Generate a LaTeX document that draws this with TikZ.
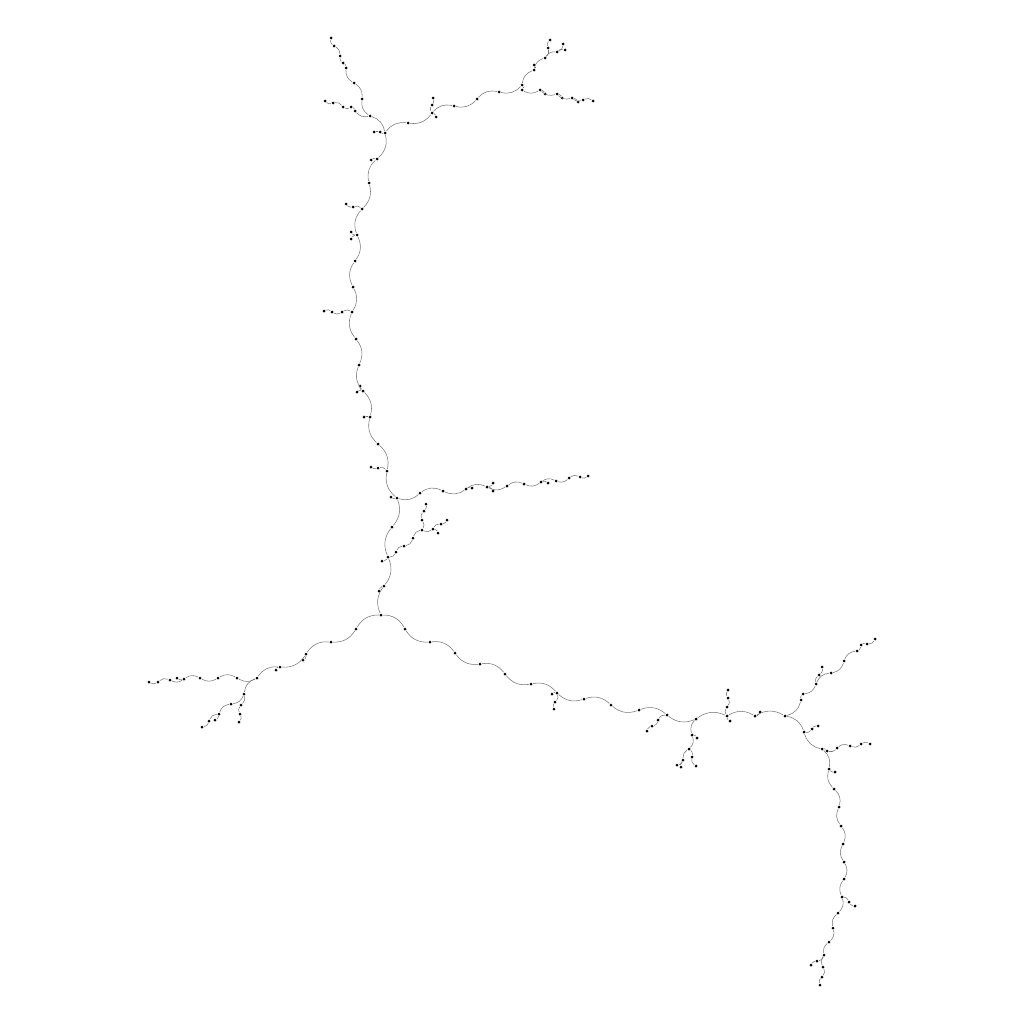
\documentclass[tikz,border=0pt]{standalone}
\usetikzlibrary{positioning}

\tikzset{
  vtx/.style={circle,fill=black,inner sep=0pt,minimum size=0.03cm},
  lnk/.style={draw=black!55,line width=0.15pt}
}

\begin{document}
\begin{tikzpicture}[x=0.01cm,y=-0.01cm]
  \useasboundingbox (0,0) rectangle (1024,1024);

  % vertices (pixel positions)
  \foreach \n/\x/\y in {
    1/385/133, 2/370/116, 3/362/99, 4/354/83, 5/346/68, 6/343/63, 7/340/56, 8/334/46, 9/331/38,
    10/355/111, 11/351/107, 12/343/107, 13/333/103, 14/325/101, 15/380/132, 16/374/132,
    17/408/123, 18/432/113, 19/454/106, 20/477/99, 21/499/92, 22/522/85, 23/432/105, 24/433/98,
    25/436/117, 26/534/70, 27/534/65, 28/545/58, 29/548/48, 30/550/40, 31/557/52, 32/563/44,
    33/565/50, 34/522/90, 35/540/90, 36/545/94, 37/557/94, 38/562/98, 39/572/98, 40/578/102,
    41/583/100, 42/593/101,
    43/377/159, 44/371/160, 45/369/183, 46/362/209, 47/353/207, 48/346/204, 49/357/235,
    50/351/232, 51/351/239, 52/355/261, 53/353/287, 54/352/312, 55/342/312, 56/332/312,
    57/324/311, 58/356/339, 59/359/365, 60/363/391, 61/360/386, 62/357/392, 63/370/417,
    64/364/417, 65/378/444, 66/387/471, 67/378/468, 68/371/467, 69/397/498, 70/391/497,
    71/420/493, 72/443/491, 73/466/489, 74/472/488, 75/487/487, 76/493/483, 77/493/491,
    78/507/486, 79/524/484, 80/541/482, 81/548/483, 82/556/481, 83/569/478, 84/580/477,
    85/588/476,
    86/392/527, 87/388/557, 88/382/561, 89/396/552, 90/404/546, 91/413/538, 92/422/530,
    93/422/520, 94/424/511, 95/426/504, 96/433/529, 97/441/524, 98/447/520, 99/438/533,
    100/384/586, 101/379/591, 102/381/615,
    103/356/629, 104/331/642, 105/306/654, 106/303/660, 107/280/667, 108/276/670, 109/257/678,
    110/237/678, 111/218/678, 112/200/678, 113/184/679, 114/177/678, 115/170/680, 116/158/682,
    117/149/682, 118/244/694, 119/231/704, 120/219/714, 121/215/720, 122/209/721, 123/202/727,
    124/241/705, 125/240/714, 126/239/722,
    127/405/629, 128/430/642, 129/455/653, 130/480/664, 131/505/674, 132/531/684, 133/557/693,
    134/552/694, 135/555/702, 136/554/709, 137/584/699, 138/611/705, 139/639/710, 140/667/715,
    141/658/720, 142/652/726, 143/647/731, 144/696/719, 145/692/735, 146/697/738, 147/689/749,
    148/683/760, 149/677/765, 150/681/767, 151/692/757, 152/696/766, 153/727/716, 154/730/721,
    155/727/707, 156/728/698, 157/728/690, 158/755/716, 159/760/712, 160/785/716, 161/801/700,
    162/803/694, 163/816/684, 164/819/675, 165/822/667, 166/831/673, 167/844/661, 168/857/651,
    169/861/645, 170/867/644, 171/875/639, 172/804/732, 173/812/729, 174/818/726, 175/822/749,
    176/827/751, 177/837/748, 178/850/746, 179/861/744, 180/870/744, 181/829/769, 182/835/772,
    183/834/789, 184/839/807, 185/841/826, 186/843/844, 187/844/862, 188/844/879, 189/842/897,
    190/849/902, 191/855/906, 192/838/913, 193/833/928, 194/829/942, 195/824/955, 196/817/961,
    197/811/965, 198/823/967, 199/822/977, 200/820/985}
    \node[vtx] (v\n) at (\x,\y) {};

  % links, bend sign alternating along each branch
  \foreach \a/\b/\s in {
    1/2/-30, 2/3/30, 3/4/-30, 4/5/30, 5/6/-30, 6/7/30, 7/8/-30, 8/9/30,
    2/10/30, 10/11/-30, 11/12/30, 12/13/-30, 13/14/30, 1/15/30, 15/16/-30,
    1/17/30, 17/18/-30, 18/19/30, 19/20/-30, 20/21/30, 21/22/-30,
    18/23/30, 23/24/-30, 18/25/30,
    22/26/30, 26/27/-30, 26/28/30, 28/29/-30, 29/30/30, 28/31/30, 31/32/-30, 31/33/30,
    22/34/30, 34/35/-30, 35/36/30, 35/37/-30, 37/38/30, 37/39/-30, 39/40/30, 39/41/-30, 41/42/30,
    1/43/30, 43/44/-30, 43/45/-30, 45/46/30, 46/47/-30, 47/48/30, 46/49/-30, 49/50/30, 49/51/-30,
    49/52/30, 52/53/-30, 53/54/30, 54/55/-30, 55/56/30, 56/57/-30, 54/58/-30, 58/59/30,
    59/60/-30, 60/61/30, 60/62/-30, 60/63/30, 63/64/-30, 63/65/-30, 65/66/30, 66/67/-30,
    67/68/30, 66/69/-30, 69/70/30,
    69/71/-30, 71/72/30, 72/73/-30, 73/74/30, 73/75/30, 75/76/-30, 75/77/30, 75/78/-30,
    78/79/30, 79/80/-30, 80/81/30, 80/82/30, 82/83/-30, 83/84/30, 84/85/-30,
    69/86/30, 86/87/-30, 87/88/30, 87/89/-30, 89/90/30, 90/91/-30, 91/92/30, 92/93/-30,
    93/94/30, 94/95/-30, 92/96/-30, 96/97/30, 97/98/-30, 96/99/30, 87/100/30, 100/101/-30,
    100/102/-30,
    102/103/-30, 103/104/30, 104/105/-30, 105/106/30, 105/107/30, 107/108/-30, 107/109/-30,
    109/110/30, 110/111/-30, 111/112/30, 112/113/-30, 113/114/30, 113/115/30, 115/116/-30,
    116/117/30, 109/118/-30, 118/119/30, 119/120/-30, 120/121/30, 120/122/-30, 122/123/30,
    118/124/30, 124/125/-30, 125/126/30,
    102/127/30, 127/128/-30, 128/129/30, 129/130/-30, 130/131/30, 131/132/-30, 132/133/30,
    133/134/-30, 133/135/30, 135/136/-30, 133/137/-30, 137/138/30, 138/139/-30, 139/140/30,
    140/141/-30, 141/142/30, 142/143/-30, 140/144/-30, 144/145/-30, 145/146/30, 145/147/30,
    147/148/-30, 148/149/30, 148/150/-30, 147/151/30, 151/152/-30, 144/153/30, 153/154/-30,
    153/155/30, 155/156/-30, 156/157/30, 153/158/30, 158/159/-30, 158/160/30, 160/161/-30,
    161/162/30, 162/163/-30, 163/164/30, 164/165/-30, 163/166/30, 166/167/-30, 167/168/30,
    168/169/-30, 169/170/30, 170/171/-30, 160/172/30, 172/173/-30, 173/174/30, 172/175/-30,
    175/176/30, 176/177/-30, 177/178/30, 178/179/-30, 179/180/30, 175/181/30, 181/182/-30,
    181/183/-30, 183/184/30, 184/185/-30, 185/186/30, 186/187/-30, 187/188/30, 188/189/-30,
    189/190/30, 190/191/-30, 189/192/30, 192/193/-30, 193/194/30, 194/195/-30, 195/196/30,
    196/197/-30, 195/198/-30, 198/199/30, 199/200/-30}
    \draw[lnk] (v\a) to[bend left=\s] (v\b);
\end{tikzpicture}
\end{document}
